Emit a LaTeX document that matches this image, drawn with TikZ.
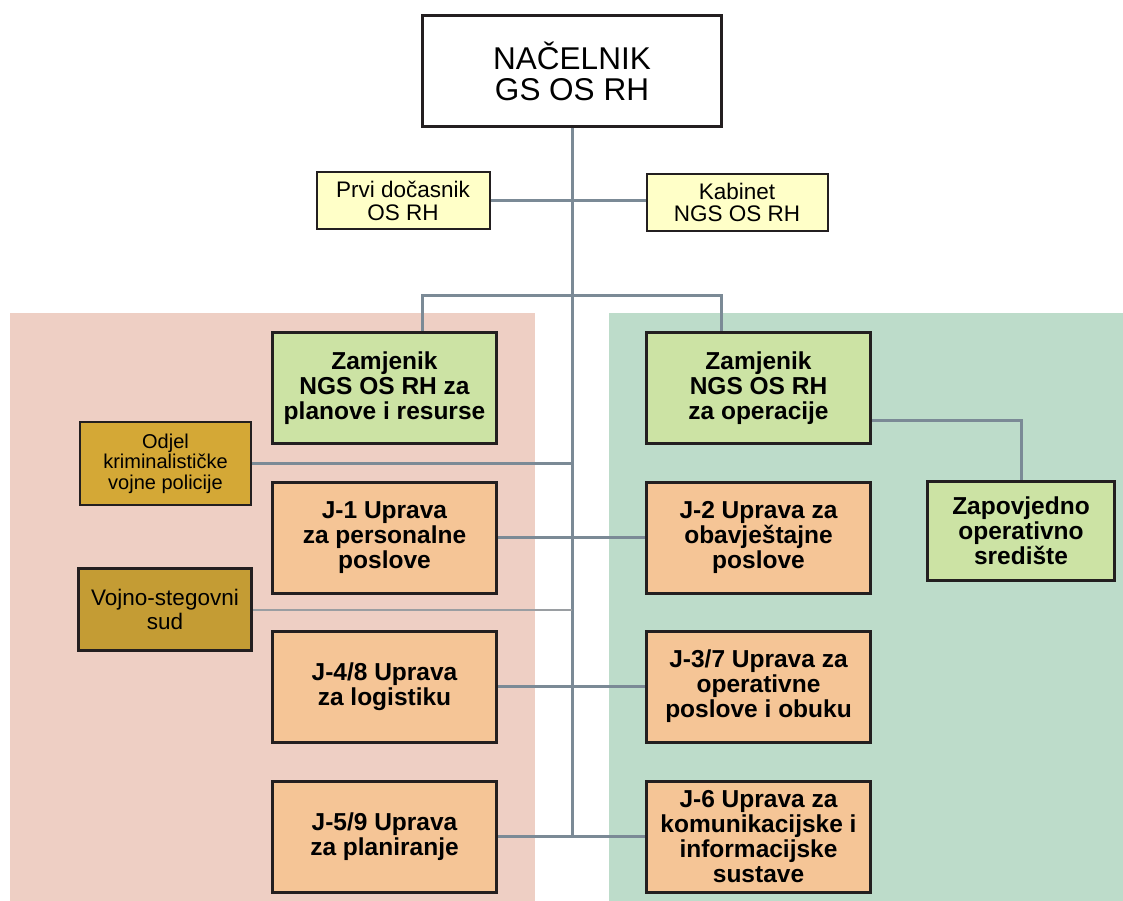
\documentclass[tikz,border=0pt]{standalone}
\usepackage{fontspec}
\setmainfont{Liberation Sans}
\definecolor{pinkpanel}{HTML}{EECFC4}
\definecolor{greenpanel}{HTML}{BDDCCA}
\definecolor{greenbox}{HTML}{CCE3A4}
\definecolor{orangebox}{HTML}{F5C596}
\definecolor{yellowbox}{HTML}{FFFFC8}
\definecolor{odjelbox}{HTML}{D4A836}
\definecolor{vojnobox}{HTML}{C49C34}
\definecolor{linec}{HTML}{7B8A96}
\definecolor{linelight}{HTML}{9A9EA2}
\definecolor{borderc}{HTML}{231F20}
\tikzset{
  box/.style={rectangle, draw=borderc, line width=3pt, inner sep=0pt, align=center, text=black},
  bigbox/.style={box, fill=white, minimum width=299pt, minimum height=111pt, font=\fontsize{31.5}{31}\selectfont},
  smallbox/.style={box, fill=yellowbox, line width=2pt, minimum height=57pt, font=\fontsize{22.5}{22.5}\selectfont},
  unitbox/.style={box, minimum width=224pt, minimum height=111pt, font=\bfseries\fontsize{24.5}{25}\selectfont},
  greenunit/.style={unitbox, fill=greenbox},
  orangeunit/.style={unitbox, fill=orangebox},
  conn/.style={draw=linec, line width=3pt},
  connthin/.style={draw=linelight, line width=2pt}
}
\begin{document}
\begin{tikzpicture}[x=1pt,y=-1pt]
\useasboundingbox (0,0) rectangle (1123,901);
% panels
\fill[pinkpanel] (10,313) rectangle (535,901);
\fill[greenpanel] (609,313) rectangle (1123,901);
% nodes
\node[bigbox] (top) at (572,71) {NAČELNIK\\GS OS RH};
\node[smallbox, minimum width=173pt] (prvi) at (403,201) {Prvi dočasnik\\OS RH};
\node[smallbox, minimum width=181pt] (kab) at (737,202.5) {Kabinet\\NGS OS RH};
\node[greenunit] (zl) at (384.5,388) {Zamjenik\\NGS OS RH za\\planove i resurse};
\node[greenunit] (zr) at (758.5,388) {Zamjenik\\NGS OS RH\\za operacije};
\node[box, fill=odjelbox, line width=2.5pt, minimum width=171pt, minimum height=83pt, font=\fontsize{20}{20.5}\selectfont] (odjel) at (165.5,463.5) {Odjel\\kriminalističke\\vojne policije};
\node[box, fill=vojnobox, minimum width=173pt, minimum height=82pt, font=\fontsize{22.5}{24}\selectfont] (vojno) at (165,609.5) {Vojno-stegovni\\sud};
\node[orangeunit] (j1) at (384.5,537.5) {J-1 Uprava\\za personalne\\poslove};
\node[orangeunit] (j2) at (758.5,537.5) {J-2 Uprava za\\obavještajne\\poslove};
\node[box, fill=greenbox, minimum width=187pt, minimum height=99pt, font=\bfseries\fontsize{24.5}{25}\selectfont] (zap) at (1021,531) {Zapovjedno\\operativno\\središte};
\node[orangeunit] (j48) at (384.5,686.5) {J-4/8 Uprava\\za logistiku};
\node[orangeunit] (j37) at (758.5,686.5) {J-3/7 Uprava za\\operativne\\poslove i obuku};
\node[orangeunit] (j59) at (384.5,836.5) {J-5/9 Uprava\\za planiranje};
\node[orangeunit] (j6) at (758.5,836.5) {J-6 Uprava za\\komunikacijske i\\informacijske\\sustave};
% coordinates
\coordinate (tb) at (572,836);
\coordinate (hl) at (422,295);
\coordinate (hr) at (721,295);
\coordinate (zk) at (1021,420);
% connectors
\draw[conn] (top.south) -- (tb);
\draw[conn] (prvi.east) -- (prvi.east -| kab.west);
\draw[conn] (zl.north -| hl) -- (hl) -- (hr) -- (zr.north -| hr);
\draw[conn, line width=2.5pt] (odjel.east) -- (odjel.east -| tb);
\draw[connthin] (vojno.east) -- (vojno.east -| tb);
\draw[conn] (j1.east) -- (j2.west);
\draw[conn] (j48.east) -- (j37.west);
\draw[conn] (j59.east) -- (j6.west);
\draw[conn] (zk -| zr.east) -- (zk) -- (zap.north);
\end{tikzpicture}
\end{document}
